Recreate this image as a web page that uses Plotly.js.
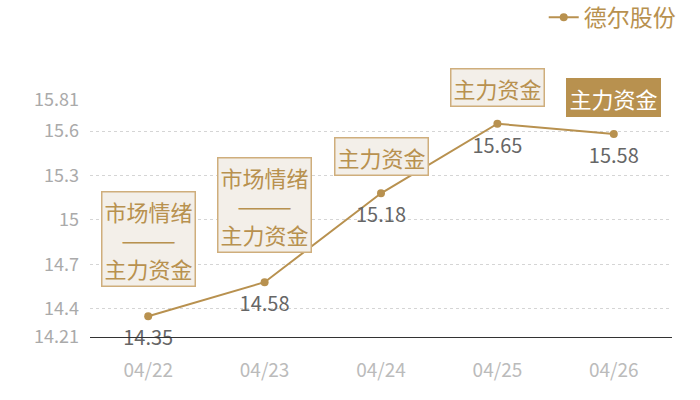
<!DOCTYPE html>
<html>
<head>
<meta charset="utf-8">
<script src="https://cdn.plot.ly/plotly-3.0.1.min.js"></script>
<style>body{margin:0;background:#fff}#chart{width:700px;height:400px}</style>
</head>
<body>
<div id="chart"></div>
<script>
// ----- data -----
var dates = ['04/22', '04/23', '04/24', '04/25', '04/26'];
var prices = [14.35, 14.58, 15.18, 15.65, 15.58];
var tags = ['市场情绪<br>———<br>主力资金', '市场情绪<br>———<br>主力资金', '主力资金', '主力资金', '主力资金'];
var tagFilled = [false, false, false, false, true];
var yTicks = [14.21, 14.4, 14.7, 15, 15.3, 15.6, 15.81];
var seriesName = '德尔股份';

var gold = '#b8914f';
var font = '"Noto Sans CJK SC", "Microsoft YaHei", sans-serif';

var line = {
    x: dates,
    y: prices,
    name: seriesName,
    type: 'scatter',
    mode: 'lines+markers',
    line: { color: gold, width: 2 },
    marker: { color: gold, size: 8 },
    cliponaxis: false
};

// value labels, pushed a bit further below the points by a bigger, invisible marker
var labels = {
    x: dates,
    y: prices,
    type: 'scatter',
    mode: 'markers+text',
    marker: { size: 21, color: 'rgba(0,0,0,0)' },
    text: prices.map(function (v) { return v.toFixed(2); }),
    textposition: 'bottom center',
    textfont: { family: font, size: 20, color: '#666' },
    cliponaxis: false,
    showlegend: false,
    hoverinfo: 'skip'
};

var notes = dates.map(function (d, i) {
    var filled = tagFilled[i];
    return {
        x: d, y: prices[i],
        xref: 'x', yref: 'y',
        text: tags[i],
        showarrow: false,
        xanchor: 'center', yanchor: 'bottom',
        yshift: tags[i].indexOf('<br>') > -1 ? 29 : 17,
        font: { family: font, size: 22, color: filled ? '#fff' : gold },
        bgcolor: filled ? gold : '#f3efe9',
        bordercolor: filled ? gold : '#cfae7c',
        borderwidth: 1.5,
        borderpad: 2
    };
});

var layout = {
    width: 700, height: 400,
    margin: { l: 90, r: 28, t: 100, b: 63, autoexpand: false },
    paper_bgcolor: '#fff', plot_bgcolor: '#fff',
    font: { family: font },
    showlegend: true,
    legend: {
        orientation: 'h', x: 1.015, xanchor: 'right', y: 1.44, yanchor: 'top',
        font: { family: font, size: 23, color: gold }
    },
    xaxis: {
        type: 'category',
        range: [-0.5, 4.5],
        showgrid: false,
        showline: true, linecolor: '#333', linewidth: 1,
        ticks: '',
        tickfont: { family: font, size: 19, color: '#bbb' },
        ticklabelstandoff: 16,
        zeroline: false,
        fixedrange: true
    },
    yaxis: {
        range: [14.21, 15.81],
        tickvals: yTicks,
        ticktext: yTicks.map(String),
        showgrid: true, gridcolor: '#d5d5d5', griddash: 'dot', gridwidth: 1,
        showline: false, zeroline: false,
        ticks: '',
        tickfont: { family: font, size: 18, color: '#aaa' },
        ticklabelstandoff: 10,
        fixedrange: true
    },
    annotations: notes
};

Plotly.newPlot('chart', [line, labels], layout, { displayModeBar: false, staticPlot: true });
</script>
</body>
</html>
